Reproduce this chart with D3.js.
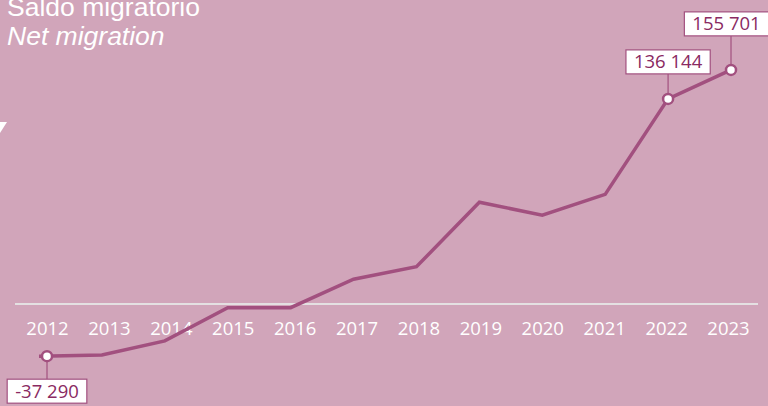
<!DOCTYPE html>
<html>
<head>
<meta charset="utf-8">
<script src="https://cdn.jsdelivr.net/npm/d3@7"></script>
<style>
  html, body { margin: 0; padding: 0; background: #d1a5ba; overflow: hidden; }
  svg { display: block; }
</style>
</head>
<body>
<script>
var width = 768;
var height = 406;

// data
var years = [2012, 2013, 2014, 2015, 2016, 2017, 2018, 2019, 2020, 2021, 2022, 2023];
var netMigration = [-37290, -36500, -27000, -4600, -4600, 14600, 23000, 66500, 57700, 71800, 136144, 155701];
var labelled = [
  {year: 2012, text: '-37 290', side: 'below'},
  {year: 2022, text: '136 144', side: 'above'},
  {year: 2023, text: '155 701', side: 'above'}
];

var lineColor = '#a2507f';
var textColor = '#8a2a62';

var svg = d3.select('body').append('svg')
            .attr('width', width)
            .attr('height', height);

var x = d3.scalePoint().domain(years).range([39, 731]);
var xAxisScale = d3.scalePoint().domain(years).range([47, 728]);
var y = d3.scaleLinear().domain([-40000, 160000]).range([360.2, 63.5]);

var data = years.map((yr, i) => ({year: yr, value: netMigration[i]}));

// title
svg.append('text')
   .attr('x', 7).attr('y', 16)
   .attr('fill', '#fff')
   .style('font', '26.5px "Liberation Sans", Arial, sans-serif')
   .text('Saldo migratorio');
svg.append('text')
   .attr('x', 7).attr('y', 45)
   .attr('fill', '#fff')
   .style('font', 'italic 26.5px "Liberation Sans", Arial, sans-serif')
   .text('Net migration');

// small white triangle on left edge
svg.append('path')
   .attr('d', 'M-7,122 L7,122 L0,133 Z')
   .attr('fill', '#fff');

// baseline
svg.append('line')
   .attr('x1', 15).attr('x2', 758)
   .attr('y1', 304).attr('y2', 304)
   .attr('stroke', '#e4e0e2')
   .attr('stroke-width', 2);

// year axis
var axis = svg.append('g')
              .attr('transform', 'translate(0,335)')
              .call(d3.axisBottom(xAxisScale).tickSize(0).tickPadding(0));
axis.select('.domain').remove();
axis.selectAll('text')
    .attr('y', 0).attr('dy', 0)
    .attr('fill', '#fff')
    .style('font-family', '"Open Sans", sans-serif')
    .style('font-size', '18.5px');

// the line
var line = d3.line().x(d => x(d.year)).y(d => y(d.value));
svg.append('path')
   .datum(data)
   .attr('d', line)
   .attr('fill', 'none')
   .attr('stroke', lineColor)
   .attr('stroke-width', 3.5)
   .attr('stroke-linejoin', 'miter');

// labels with leader lines
labelled.forEach(function(l) {
  var v = netMigration[years.indexOf(l.year)];
  var cx = l.year === 2012 ? xAxisScale(l.year) : x(l.year);
  var cy = y(v);
  var g = svg.append('g');
  var t = g.append('text')
           .attr('text-anchor', 'middle')
           .attr('fill', textColor)
           .style('font-family', '"Open Sans", sans-serif')
           .style('font-size', '18.5px')
           .text(l.text);
  var bw = t.node().getComputedTextLength() + 16;
  var bh = 24;
  var bx, by;
  if (l.side === 'above') {
    by = cy - (l.year === 2023 ? 58 : 49);
    bx = l.year === 2023 ? cx - 4.5 - bw / 2 : cx - bw / 2;
  } else {
    by = cy + 23;
    bx = cx - bw / 2;
  }
  g.insert('line', 'text')
   .attr('x1', cx).attr('x2', cx)
   .attr('y1', cy).attr('y2', l.side === 'above' ? by + bh : by)
   .attr('stroke', lineColor).attr('stroke-width', 1.2);
  g.insert('rect', 'text')
   .attr('x', bx).attr('y', by)
   .attr('width', bw).attr('height', bh)
   .attr('fill', '#fff')
   .attr('stroke', lineColor).attr('stroke-width', 1.2);
  t.attr('x', bx + bw / 2).attr('y', by + 18.5);
  g.append('circle')
   .attr('cx', cx).attr('cy', cy).attr('r', 5)
   .attr('fill', '#fff')
   .attr('stroke', lineColor).attr('stroke-width', 2.5);
});
</script>
</body>
</html>
